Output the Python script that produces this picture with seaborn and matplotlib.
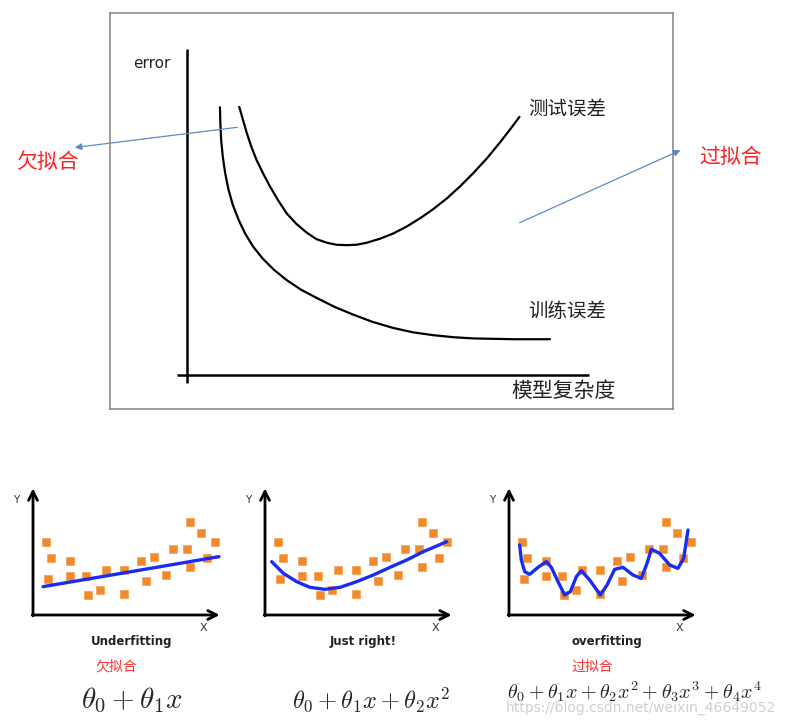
import matplotlib
import matplotlib.pyplot as plt
import seaborn as sns

matplotlib.use("Agg")

sns.set_style("white")
plt.rcParams['font.family'] = ['Noto Sans CJK SC', 'DejaVu Sans']
plt.rcParams['mathtext.fontset'] = 'cm'

# top chart: error vs model complexity
test_x = [1.30, 1.40, 1.49, 1.60, 1.73, 1.90, 2.07, 2.27, 2.48, 2.72, 2.98, 3.22, 3.48, 3.72, 3.97,
          4.22, 4.47, 4.80, 5.13, 5.46, 5.80, 6.13, 6.46, 6.79, 7.12, 7.46, 7.79, 8.03, 8.27]
test_y = [6.67, 6.32, 6.01, 5.68, 5.35, 5.00, 4.68, 4.34, 4.02, 3.76, 3.54, 3.38, 3.29, 3.24, 3.23,
          3.24, 3.29, 3.39, 3.52, 3.69, 3.90, 4.13, 4.39, 4.69, 5.02, 5.39, 5.79, 6.10, 6.42]
train_x = [0.82, 0.83, 0.85, 0.89, 0.95, 1.03, 1.14, 1.28, 1.44, 1.64, 1.88, 2.16, 2.48, 2.84, 3.24,
           3.68, 4.14, 4.62, 5.13, 5.63, 6.13, 6.63, 7.12, 7.62, 8.12, 8.60, 9.03]
train_y = [6.66, 6.25, 5.85, 5.43, 5.02, 4.62, 4.23, 3.87, 3.53, 3.20, 2.90, 2.62, 2.36, 2.12, 1.91,
           1.69, 1.50, 1.32, 1.17, 1.06, 0.99, 0.94, 0.91, 0.90, 0.89, 0.89, 0.89]

# bottom charts: same sample points in all three panels
pts_x = [0.76, 1.10, 0.92, 2.24, 2.20, 3.16, 3.32, 4.00, 4.36, 5.48, 5.48,
         6.48, 6.80, 7.28, 7.96, 8.42, 9.26, 9.44, 9.44, 10.08, 10.44, 10.94]
pts_y = [4.38, 3.44, 2.14, 3.24, 2.32, 2.32, 1.18, 1.50, 2.70, 2.70, 1.28,
         3.24, 2.06, 3.46, 2.40, 3.98, 3.98, 2.86, 5.58, 4.94, 3.44, 4.38]

under_x = [0.60, 11.16]
under_y = [1.70, 3.50]
right_x = [0.40, 1.10, 1.90, 2.70, 3.60, 4.50, 5.50, 6.50, 7.50, 8.50, 9.50, 10.30, 10.90]
right_y = [3.20, 2.50, 2.00, 1.66, 1.54, 1.66, 2.00, 2.40, 2.86, 3.30, 3.80, 4.14, 4.40]
over_x = [0.64, 0.74, 0.94, 1.24, 1.74, 2.24, 2.54, 2.94, 3.34, 3.68, 4.04, 4.34, 4.84, 5.48,
          5.88, 6.34, 6.84, 7.44, 7.94, 8.28, 8.54, 9.04, 9.64, 10.14, 10.48, 10.74]
over_y = [4.20, 3.30, 2.60, 2.44, 2.86, 3.20, 2.86, 2.00, 1.20, 1.40, 2.30, 2.66, 2.10, 1.20,
          1.80, 2.74, 2.86, 2.40, 2.20, 3.10, 3.94, 3.70, 3.00, 2.80, 3.40, 5.10]

titles = ["Underfitting", "Just right!", "overfitting"]
cn_tags = ["欠拟合", None, "过拟合"]
formulas = [r"$\theta_0 + \theta_1 x$",
            r"$\theta_0 + \theta_1 x + \theta_2 x^2$",
            r"$\theta_0 + \theta_1 x + \theta_2 x^2 + \theta_3 x^3 + \theta_4 x^4$"]

W, H = 786, 725
fig = plt.figure(figsize=(W / 100, H / 100), dpi=100)

# ---- top box ----
px = 40.2  # pixels per unit
ox, oy = 187, 375
bl, bt, br, bb = 110, 13, 673, 409
ax = fig.add_axes([bl / W, 1 - bb / H, (br - bl) / W, (bb - bt) / H])
ax.set_xlim((bl - ox) / px, (br - ox) / px)
ax.set_ylim((oy - bb) / px, (oy - bt) / px)
ax.set_xticks([])
ax.set_yticks([])
for s in ax.spines.values():
    s.set_color("#8a8a8a")
    s.set_linewidth(1.2)

ax.plot([0, 0], [-0.2, 8.11], color="black", lw=1.8, solid_capstyle="butt")
ax.plot([-0.25, 10.0], [0, 0], color="black", lw=1.8, solid_capstyle="butt")
sns.lineplot(x=test_x, y=test_y, sort=False, color="black", lw=1.6, ax=ax)
sns.lineplot(x=train_x, y=train_y, sort=False, color="black", lw=1.6, ax=ax)

ax.text(-0.87, 7.74, "error", fontsize=11, ha="center", va="center", family="DejaVu Sans", color="#222222")
ax.text(8.48, 6.59, "测试误差", fontsize=14, ha="left", va="center", color="#222222")
ax.text(8.48, 1.59, "训练误差", fontsize=14, ha="left", va="center", color="#222222")
ax.text(8.08, -0.40, "模型复杂度", fontsize=15, ha="left", va="center", color="#222222")

arrow_kw = dict(arrowstyle="-|>", color="#5b8bc9", lw=0.9, mutation_scale=10)
ax.annotate("", xy=(-2.86, 5.65), xytext=(1.32, 6.17), arrowprops=arrow_kw, annotation_clip=False)
ax.annotate("", xy=(12.34, 5.62), xytext=(8.21, 3.76), arrowprops=arrow_kw, annotation_clip=False)
ax.text(-3.48, 5.30, "欠拟合", fontsize=15, color="#ff2020", ha="center", va="center", clip_on=False)
ax.text(13.53, 5.42, "过拟合", fontsize=15, color="#ff2020", ha="center", va="center", clip_on=False)

# ---- bottom panels ----
u = 50 / 3  # pixels per unit
origins = [33, 265, 509]
fits = [(under_x, under_y), (right_x, right_y), (over_x, over_y)]
for i, o in enumerate(origins):
    left = o - 0.4 * u
    bottom = 615 + 0.4 * u
    a = fig.add_axes([left / W, 1 - bottom / H, 12 * u / W, 8.4 * u / H])
    a.set_xlim(-0.4, 11.6)
    a.set_ylim(-0.4, 8.0)
    a.axis("off")
    akw = dict(arrowstyle="->", color="black", lw=2, mutation_scale=16, shrinkA=0, shrinkB=0)
    a.annotate("", xy=(0, 7.6), xytext=(0, -0.05), arrowprops=akw)
    a.annotate("", xy=(11.2, 0), xytext=(-0.05, 0), arrowprops=akw)
    a.text(-1.0, 6.9, "Y", fontsize=7.5, ha="center", va="center", family="DejaVu Sans",
           color="#333333", clip_on=False)
    a.text(10.2, -0.8, "X", fontsize=8, ha="center", va="center", family="DejaVu Sans",
           color="#333333", clip_on=False)
    sns.scatterplot(x=pts_x, y=pts_y, marker="s", s=26, color="#f08a2c", edgecolor="#f5a050",
                    linewidth=0.5, ax=a, zorder=2)
    fx, fy = fits[i]
    sns.lineplot(x=fx, y=fy, sort=False, color="#1a2cf0", lw=2.4, ax=a, zorder=3)
    a.text(5.9, (615 - 642) / u, titles[i], fontsize=8.5, fontweight="bold", ha="center",
           va="center", family="DejaVu Sans", color="#222222", clip_on=False)
    if cn_tags[i]:
        a.text(5.0, (615 - 667) / u, cn_tags[i], fontsize=10, color="#ff3030", ha="center",
               va="center", clip_on=False)

# formulas under each panel
fig.text(132 / W, 1 - 700 / H, formulas[0], fontsize=21, ha="center", va="center")
fig.text(371 / W, 1 - 700 / H, formulas[1], fontsize=17.5, ha="center", va="center")
fig.text(634 / W, 1 - 692 / H, formulas[2], fontsize=14.5, ha="center", va="center")

fig.text(641 / W, 1 - 708 / H, "https://blog.csdn.net/weixin_46649052", fontsize=10,
         color="#d0d0d0", ha="center", va="center", family="DejaVu Sans", zorder=-1)

fig.savefig("out.png", dpi=100, facecolor="white")
